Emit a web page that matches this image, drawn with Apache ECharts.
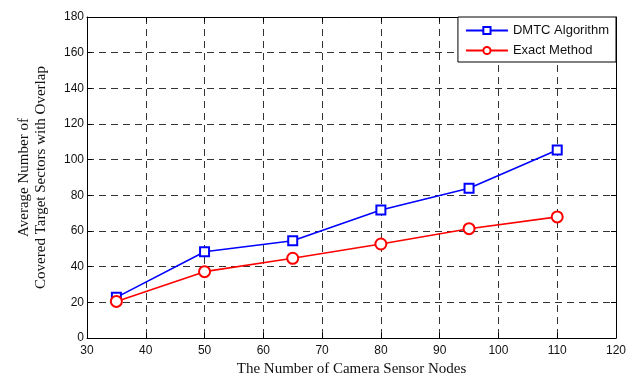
<!DOCTYPE html>
<html>
<head>
<meta charset="utf-8">
<script src="https://cdn.jsdelivr.net/npm/echarts@6/dist/echarts.min.js"></script>
<style>
  html, body { margin: 0; padding: 0; background: #fff; }
  #chart { width: 632px; height: 378px; }
</style>
</head>
<body>
<div id="chart"></div>
<script>
// Number of camera sensor nodes
const nodes = [35, 50, 65, 80, 95, 110];
// Average number of covered target sectors with overlap
const dmtc = [22.8, 48.4, 54.5, 71.8, 84.0, 105.4];
const exact = [20.5, 37.2, 44.7, 52.7, 61.3, 67.9];

const seriesNames = ['DMTC Algorithm', 'Exact Method'];

const tickFont = { fontFamily: 'Liberation Sans, Arial, sans-serif', fontSize: 12, color: '#111' };
const titleFont = { fontFamily: 'Liberation Serif, Times New Roman, serif', fontSize: 15, color: '#111' };
const gridDash = { show: true, lineStyle: { color: '#333', type: [7, 5], width: 1 } };

const chart = echarts.init(document.getElementById('chart'), null, { renderer: 'canvas' });

const toPairs = ys => nodes.map((x, i) => [x, ys[i]]);

chart.setOption({
  animation: false,
  backgroundColor: '#fff',
  grid: { left: 87, right: 16, top: 17, bottom: 40, containLabel: false, outerBoundsMode: 'none' },
  legend: {
    orient: 'vertical',
    right: 16,
    top: 17,
    itemWidth: 42,
    itemHeight: 9,
    itemGap: 7,
    padding: [7, 7, 5, 7],
    borderColor: '#000',
    borderWidth: 1,
    backgroundColor: '#fff',
    textStyle: { fontFamily: 'Liberation Sans, Arial, sans-serif', fontSize: 13, color: '#111' },
    data: seriesNames
  },
  xAxis: [
    {
      type: 'value', min: 30, max: 120, interval: 10, position: 'bottom',
      name: 'The Number of Camera Sensor Nodes', nameLocation: 'middle', nameGap: 23,
      nameTextStyle: titleFont,
      axisLine: { show: true, onZero: false, lineStyle: { color: '#000', width: 1 } },
      axisTick: { show: true, inside: true, length: 5, lineStyle: { color: '#000' } },
      axisLabel: Object.assign({ margin: 7 }, tickFont),
      splitLine: gridDash
    },
    {
      type: 'value', min: 30, max: 120, interval: 10, position: 'top',
      axisLine: { show: true, onZero: false, lineStyle: { color: '#000', width: 1 } },
      axisTick: { show: true, inside: true, length: 5, lineStyle: { color: '#000' } },
      axisLabel: { show: false },
      splitLine: { show: false }
    }
  ],
  yAxis: [
    {
      type: 'value', min: 0, max: 180, interval: 20, position: 'left',
      name: 'Average Number of\nCovered Target Sectors with Overlap',
      nameLocation: 'middle', nameGap: 37, nameRotate: 90,
      nameTextStyle: Object.assign({ lineHeight: 17 }, titleFont),
      axisLine: { show: true, onZero: false, lineStyle: { color: '#000', width: 1 } },
      axisTick: { show: true, inside: true, length: 5, lineStyle: { color: '#000' } },
      axisLabel: Object.assign({ margin: 3 }, tickFont),
      splitLine: gridDash
    },
    {
      type: 'value', min: 0, max: 180, interval: 20, position: 'right',
      axisLine: { show: true, onZero: false, lineStyle: { color: '#000', width: 1 } },
      axisTick: { show: true, inside: true, length: 5, lineStyle: { color: '#000' } },
      axisLabel: { show: false },
      splitLine: { show: false }
    }
  ],
  series: [
    {
      name: seriesNames[0], type: 'line', data: toPairs(dmtc),
      symbol: 'emptyRect', symbolSize: 9,
      lineStyle: { color: '#0000ff', width: 1.6 },
      itemStyle: { color: '#0000ff', borderWidth: 1.6 },
      z: 3
    },
    {
      name: seriesNames[1], type: 'line', data: toPairs(exact),
      symbol: 'emptyCircle', symbolSize: 11,
      lineStyle: { color: '#ff0000', width: 1.6 },
      itemStyle: { color: '#ff0000', borderWidth: 1.6 },
      z: 3
    }
  ]
});
</script>
</body>
</html>
